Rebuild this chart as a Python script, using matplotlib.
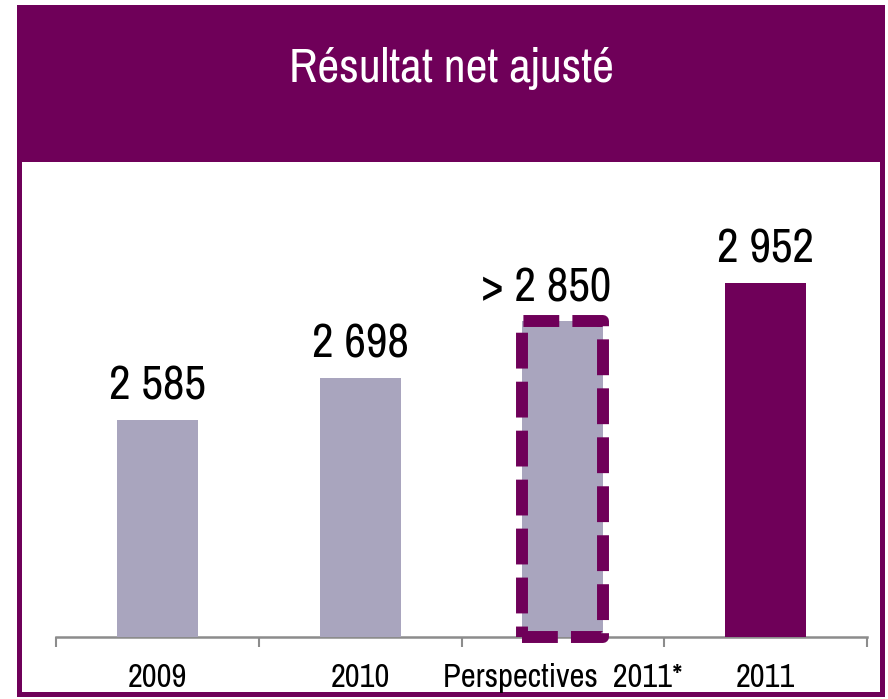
import matplotlib
matplotlib.use("Agg")
import matplotlib.pyplot as plt
from matplotlib.patches import Rectangle
import numpy as np

categories = ["2009", "2010", "Perspectives  2011*", "2011"]
values = [2585, 2698, 2850, 2952]
value_labels = ["2 585", "2 698", "> 2 850", "2 952"]
title = "Résultat net ajusté"

PURPLE = "#6F0059"
LIGHT = "#A9A5BE"
bar_colors = [LIGHT, LIGHT, LIGHT, PURPLE]
YMIN, YMAX = 2004, 3255

FONT = ["Archivo Narrow", "Liberation Sans", "DejaVu Sans"]
plt.rcParams["font.family"] = FONT

W, H = 888, 699
fig = plt.figure(figsize=(W / 100, H / 100), dpi=100)


def fx(px):
    return px / W


def fy(py):
    return 1 - py / H


fig.patches.append(Rectangle((fx(17), fy(697)), fx(885) - fx(17), fy(5) - fy(697),
                             transform=fig.transFigure, facecolor=PURPLE, edgecolor="none", zorder=0))
fig.patches.append(Rectangle((fx(22), fy(692)), fx(880) - fx(22), fy(162) - fy(692),
                             transform=fig.transFigure, facecolor="white", edgecolor="none", zorder=0))
fig.text(fx(451), fy(69), title, color="white", fontsize=34.5, ha="center", va="center", zorder=5)

ax = fig.add_axes([fx(56), fy(637), fx(867) - fx(56), fy(170) - fy(637)])
ax.set_zorder(3)
ax.set_facecolor("none")
x = np.arange(len(categories))
heights = [v - YMIN for v in values]
ax.bar(x, heights, bottom=YMIN, width=0.4, color=bar_colors, zorder=2)

# dashed outline on the outlook bar
ax.bar(x[2], heights[2], bottom=YMIN, width=0.4, fill=False, edgecolor=PURPLE, linewidth=8.6,
       linestyle=(0, (3, 1.1)), joinstyle="round", zorder=3, clip_on=False)

ax.set_ylim(YMIN, YMAX)
ax.set_xlim(-0.5, len(categories) - 0.5)

for xi, v, lab in zip(x, values, value_labels):
    dx = -12 if lab.startswith(">") else 0
    ax.annotate(lab, (xi, v), xytext=(dx, 14.5), textcoords="offset points",
                ha="center", va="baseline", fontsize=34, color="black")

for s in ["top", "left", "right"]:
    ax.spines[s].set_visible(False)
ax.spines["bottom"].set_color("#8C8C8C")
ax.spines["bottom"].set_linewidth(1.8)
ax.spines["bottom"].set_zorder(1)
ax.set_yticks([])
ax.set_xticks(np.arange(-0.5, len(categories), 1.0))
ax.set_xticklabels([])
ax.tick_params(axis="x", which="major", length=7, width=1.5, color="#8C8C8C", direction="out")
ax.set_xticks(x, minor=True)
ax.set_xticklabels(categories, minor=True, fontsize=23.5)
ax.tick_params(axis="x", which="minor", length=0, pad=19)

fig.savefig("out.png", dpi=100)
